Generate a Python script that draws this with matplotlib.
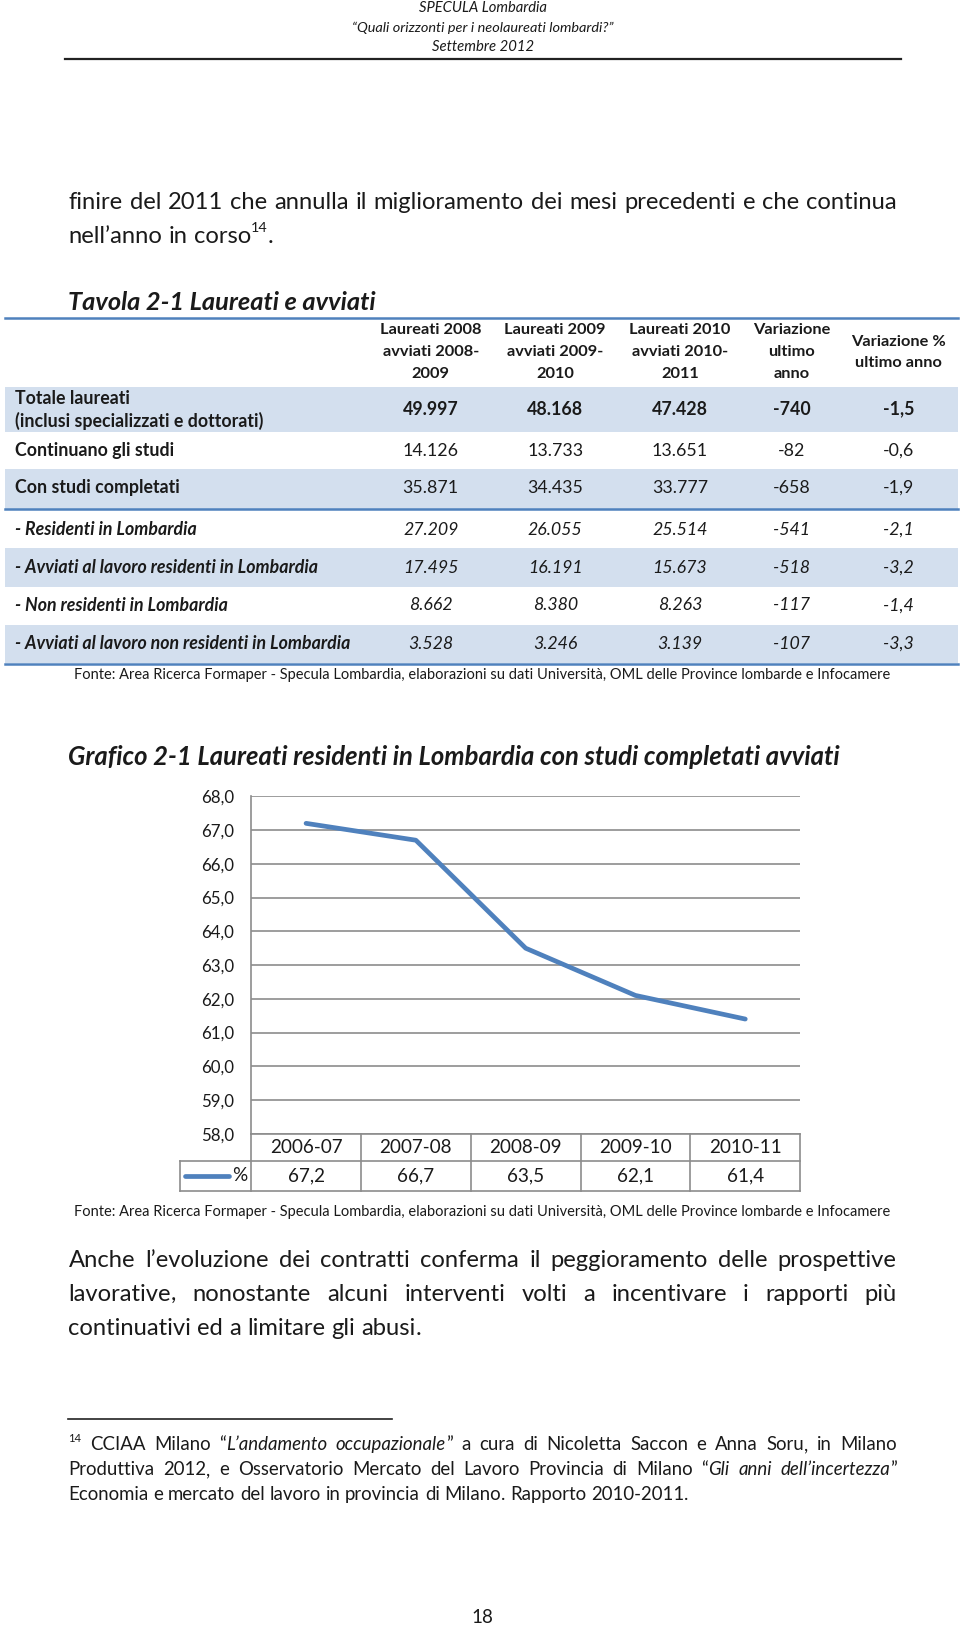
import matplotlib.pyplot as plt
from matplotlib.transforms import blended_transform_factory

plt.rcParams['font.family'] = ['Lato', 'DejaVu Sans']

# --- dati Tavola 2-1 ---
intestazioni = [["Laureati 2008", "avviati 2008-", "2009"],
                ["Laureati 2009", "avviati 2009-", "2010"],
                ["Laureati 2010", "avviati 2010-", "2011"],
                ["Variazione", "ultimo", "anno"],
                ["Variazione %", "ultimo anno"]]
righe = ["Totale laureati\n(inclusi specializzati e dottorati)",
         "Continuano gli studi",
         "Con studi completati",
         "- Residenti in Lombardia",
         "- Avviati al lavoro residenti in Lombardia",
         "- Non residenti in Lombardia",
         "- Avviati al lavoro non residenti in Lombardia"]
laureati_2008 = [49997, 14126, 35871, 27209, 17495, 8662, 3528]
laureati_2009 = [48168, 13733, 34435, 26055, 16191, 8380, 3246]
laureati_2010 = [47428, 13651, 33777, 25514, 15673, 8263, 3139]
variazione = [-740, -82, -658, -541, -518, -117, -107]
variazione_pct = [-1.5, -0.6, -1.9, -2.1, -3.2, -1.4, -3.3]

# --- dati Grafico 2-1 ---
anni = ["2006-07", "2007-08", "2008-09", "2009-10", "2010-11"]
quota = [67.2, 66.7, 63.5, 62.1, 61.4]

TXT = '#1a1a1a'
BLU = '#4F81BD'
FONDO = '#D3DFEE'
GRIGIO = '#8C8C8C'

fig = plt.figure(figsize=(9.6, 16.28), dpi=100)
R = fig.canvas.get_renderer()


def fx(x):
    return x / 925


def fy(y):
    return 1 - y / 1568


def larghezza(s, **kw):
    t = fig.text(0, 0, s, **kw)
    w = t.get_window_extent(R).width / 960
    t.remove()
    return w


def adatta(s, w, **kw):
    # dimensione del font per avere la larghezza w (in px della pagina ridotta)
    return 10 * fx(w) / larghezza(s, fontsize=10, **kw)


def parola(tok, y, size):
    items, w = [], 0
    segs = []
    for seg in tok.split('|'):
        # la punteggiatura finale va in un pezzo a parte
        if len(seg) > 1 and seg[-1] in ',.' and not seg.startswith('^'):
            segs += [seg[:-1], seg[-1]]
        else:
            segs.append(seg)
    for seg in segs:
        st = 'normal'
        fs, yy = size, y
        if seg.startswith('_'):
            seg, st = seg[1:], 'italic'
        elif seg.startswith('^'):
            seg = seg[1:]
            fs = size * 0.6
            yy = y + (size * 0.45 * 100 / 72) / 1628
        t = fig.text(0, yy, seg, fontsize=fs, style=st, color=TXT,
                     va='baseline', ha='left')
        items.append((t, w))
        w += t.get_window_extent(R).width / 960
    return items, w


def riga(testo, x0, x1, y, size, giust=True):
    parole = [parola(tok, fy(y), size) for tok in testo.split(' ')]
    spazio = larghezza('a a', fontsize=size) - larghezza('aa', fontsize=size)
    tot = sum(w for _, w in parole)
    gap = (fx(x1) - fx(x0) - tot) / (len(parole) - 1) if giust else spazio
    x = fx(x0)
    for items, w in parole:
        for t, off in items:
            t.set_x(x + off)
        x += w + gap


# --- intestazione pagina ---
for testo, y, w in [("SPECULA Lombardia", 8, 124),
                    ("\u201cQuali orizzonti per i neolaureati lombardi?\u201d", 27, 252),
                    ("Settembre 2012", 45, 98)]:
    fs = adatta(testo, w, style='italic')
    fig.text(fx(465), fy(y), testo, fontsize=fs, color=TXT, ha='center',
             va='center', style='italic')
fig.add_artist(plt.Line2D([fx(63), fx(868)], [fy(57), fy(57)], color='#222', lw=1.6))

# --- paragrafo iniziale ---
corpo = adatta("finire del 2011 che annulla il miglioramento dei mesi precedenti e che continua", 792)
riga("finire del 2011 che annulla il miglioramento dei mesi precedenti e che continua",
     66, 864, 201, corpo)
riga("nell\u2019anno in corso|^14|.", 66, 864, 234, corpo, giust=False)

# --- Tavola 2-1 ---
fs = adatta("Tavola 2-1 Laureati e avviati", 296, weight='bold', style='italic')
fig.text(fx(66), fy(291), "Tavola 2-1 Laureati e avviati", fontsize=fs, weight='bold',
         style='italic', color=TXT, ha='left', va='center')

fs_tab = adatta("- Avviati al lavoro non residenti in Lombardia", 323, weight='bold', style='italic')
fs_head = adatta("Laureati 2008", 98, weight='bold')
colonne = [415, 535, 655, 763, 866]

for xc, righe_h in zip(colonne, intestazioni):
    ys = [318, 339, 360] if len(righe_h) == 3 else [329, 350]
    for y, s in zip(ys, righe_h):
        fig.text(fx(xc), fy(y), s, fontsize=fs_head, weight='bold', color=TXT,
                 ha='center', va='center')

bande = [(373, 416), (416, 452), (452, 490), (490, 528), (528, 565), (565, 602), (602, 639)]
centri = [394, 434, 470, 510, 547, 583, 620]
for i, (lab, (y0, y1), yc) in enumerate(zip(righe, bande, centri)):
    if i % 2 == 0:
        fig.add_artist(plt.Rectangle((fx(5), fy(y1)), fx(923) - fx(5), fy(y0) - fy(y1),
                                     color=FONDO, lw=0, zorder=0))
    peso = 'bold' if i == 0 else 'normal'
    stile = 'italic' if i >= 3 else 'normal'
    if i == 0:
        l1, l2 = lab.split('\n')
        fig.text(fx(14), fy(384), l1, fontsize=fs_tab, weight='bold', color=TXT, va='center')
        fig.text(fx(14), fy(405), l2, fontsize=fs_tab, weight='bold', color=TXT, va='center')
    else:
        fig.text(fx(14), fy(yc), lab, fontsize=fs_tab, weight='bold', style=stile,
                 color=TXT, va='center')
    valori = [f"{laureati_2008[i]:,}".replace(',', '.'),
              f"{laureati_2009[i]:,}".replace(',', '.'),
              f"{laureati_2010[i]:,}".replace(',', '.'),
              f"{variazione[i]}",
              f"{variazione_pct[i]:.1f}".replace('.', ',')]
    for xc, v in zip(colonne, valori):
        fig.text(fx(xc), fy(yc), v, fontsize=fs_tab, weight=peso, style=stile,
                 color=TXT, ha='center', va='center')

for y in [306, 490, 640]:
    fig.add_artist(plt.Line2D([fx(5), fx(923)], [fy(y), fy(y)], color=BLU, lw=1.8))

fonte = ("Fonte: Area Ricerca Formaper - Specula Lombardia, elaborazioni su dati Universit\u00e0, "
         "OML delle Province lombarde e Infocamere")
fs_fonte = adatta(fonte, 781)
fig.text(fx(465), fy(650), fonte, fontsize=fs_fonte, color=TXT, ha='center', va='center')

# --- Grafico 2-1 ---
titolo = "Grafico 2-1 Laureati residenti in Lombardia con studi completati avviati"
fs = adatta(titolo, 742, weight='bold', style='italic')
fig.text(fx(66), fy(729), titolo, fontsize=fs, weight='bold', style='italic',
         color=TXT, ha='left', va='center')

ax = fig.add_axes([fx(242), fy(1092), fx(771) - fx(242), fy(767) - fy(1092)])
x = list(range(len(anni)))
ax.plot(x, quota, color=BLU, lw=3.4, solid_capstyle='round', solid_joinstyle='round', zorder=3)
ax.set_xlim(-0.5, len(anni) - 0.5)
ax.set_ylim(58, 68)
ax.set_yticks(range(58, 69))
fs_tick = adatta("68,0", 32)
ax.set_yticklabels([f"{v},0" for v in range(58, 69)], fontsize=fs_tick, color=TXT)
ax.tick_params(axis='y', length=0, pad=12)
ax.set_xticks([])
ax.grid(axis='y', color=GRIGIO, lw=1.2)
ax.set_axisbelow(True)
for lato in ['top', 'right', 'bottom']:
    ax.spines[lato].set_visible(False)
ax.spines['left'].set_color(GRIGIO)
ax.spines['left'].set_linewidth(1.2)

# tabella dati sotto il grafico
tr = blended_transform_factory(ax.transData, ax.transAxes)
h_ax = 1092 - 767
r1, r2 = -26 / h_ax, -55 / h_ax
sx = -0.5 - (242 - 173) / ((771 - 242) / len(anni))
kw = dict(transform=tr, color=GRIGIO, lw=1.2, clip_on=False)
ax.plot([-0.5, 4.5], [0, 0], **kw)
ax.plot([sx, 4.5], [r1, r1], **kw)
ax.plot([sx, 4.5], [r2, r2], **kw)
ax.plot([sx, sx], [r1, r2], **kw)
for b in [k - 0.5 for k in range(len(anni) + 1)]:
    ax.plot([b, b], [0, r2], **kw)
fs_cat = adatta("2006-07", 70)
for xi, a, q in zip(x, anni, quota):
    ax.text(xi, r1 / 2, a, transform=tr, fontsize=fs_cat, color=TXT, ha='center', va='center')
    ax.text(xi, (r1 + r2) / 2, f"{q:.1f}".replace('.', ','), transform=tr,
            fontsize=fs_cat, color=TXT, ha='center', va='center')
ax.plot([sx + 0.05, sx + 0.45], [(r1 + r2) / 2] * 2, transform=tr, color=BLU, lw=3.4,
        solid_capstyle='round', clip_on=False)
ax.text(-0.53, (r1 + r2) / 2, "%", transform=tr, fontsize=fs_cat, color=TXT,
        ha='right', va='center')

fig.text(fx(465), fy(1167), fonte, fontsize=fs_fonte, color=TXT, ha='center', va='center')

# --- paragrafo finale ---
riga("Anche l\u2019evoluzione dei contratti conferma il peggioramento delle prospettive",
     66, 864, 1220, corpo)
riga("lavorative, nonostante alcuni interventi volti a incentivare i rapporti pi\u00f9",
     66, 864, 1253, corpo)
riga("continuativi ed a limitare gli abusi.", 66, 864, 1286, corpo, giust=False)

# --- nota a pie' di pagina ---
fig.add_artist(plt.Line2D([fx(66), fx(378)], [fy(1367), fy(1367)], color='#222', lw=1.2))
nota = adatta("Economia e mercato del lavoro in provincia di Milano. Rapporto 2010-2011.", 599)
riga("^14 CCIAA Milano \u201c|_L\u2019andamento _occupazionale|\u201d a cura di Nicoletta Saccon "
     "e Anna Soru, in Milano", 66, 864, 1397, nota)
riga("Produttiva 2012, e Osservatorio Mercato del Lavoro Provincia di Milano "
     "\u201c|_Gli _anni _dell\u2019incertezza|\u201d", 66, 864, 1421, nota)
riga("Economia e mercato del lavoro in provincia di Milano. Rapporto 2010-2011.",
     66, 864, 1445, nota, giust=False)

fig.text(fx(465), fy(1558), "18", fontsize=adatta("18", 21), color=TXT,
         ha='center', va='center')

fig.savefig('out.png', dpi=100)
